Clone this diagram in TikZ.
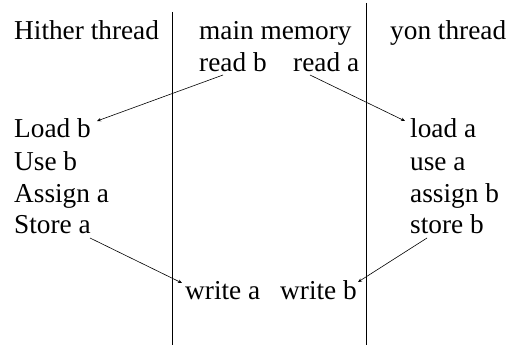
\documentclass[tikz,border=0pt]{standalone}
\usepackage{fontspec}
\setmainfont{Liberation Serif}
\usetikzlibrary{arrows.meta,calc}
\begin{document}
\begin{tikzpicture}[x=1pt,y=-1pt,
  lbl/.style={anchor=base west,inner sep=0pt,font=\fontsize{27.3}{30}\selectfont},
  conn/.style={line width=0.6pt,-{Stealth[length=4pt,width=3.5pt]}},
  divider/.style={line width=1pt}]
\useasboundingbox (0,0) rectangle (522,345);
% dividers
\draw[divider] (172,12) -- (172,345);
\draw[divider] (366,3) -- (366,345);
% headers
\node[lbl] (ht) at (14,40) {Hither thread};
\node[lbl] (mm) at (199,40) {main memory};
\node[lbl] (yt) at (390,40) {yon thread};
% main memory reads
\node[lbl] (rb) at (199,71) {read b};
\node[lbl] (ra) at (293,71) {read a};
% hither thread
\node[lbl] (lb) at (14,137) {Load b};
\node[lbl] (ub) at (14,170) {Use b};
\node[lbl] (aa) at (14,202) {Assign a};
\node[lbl] (sa) at (14,233) {Store a};
% yon thread
\node[lbl] (la) at (410,137) {load a};
\node[lbl] (ua) at (410,170) {use a};
\node[lbl] (ab) at (410,202) {assign b};
\node[lbl] (sb) at (410,233) {store b};
% main memory writes
\node[lbl] (wa) at (185,299) {write a};
\node[lbl] (wb) at (280,299) {write b};
% connectors
\draw[conn] ($(rb.base west)+(24,4)$) -- ($(lb.base west)+(83,-16)$);
\draw[conn] ($(ra.base west)+(17,4)$) -- ($(la.base west)+(-5,-16)$);
\draw[conn] ($(sa.base west)+(76,5)$) -- ($(wa.base west)+(-3,-16)$);
\draw[conn] ($(sb.base west)+(17,5)$) -- ($(wb.base west)+(78,-17)$);
\end{tikzpicture}
\end{document}
